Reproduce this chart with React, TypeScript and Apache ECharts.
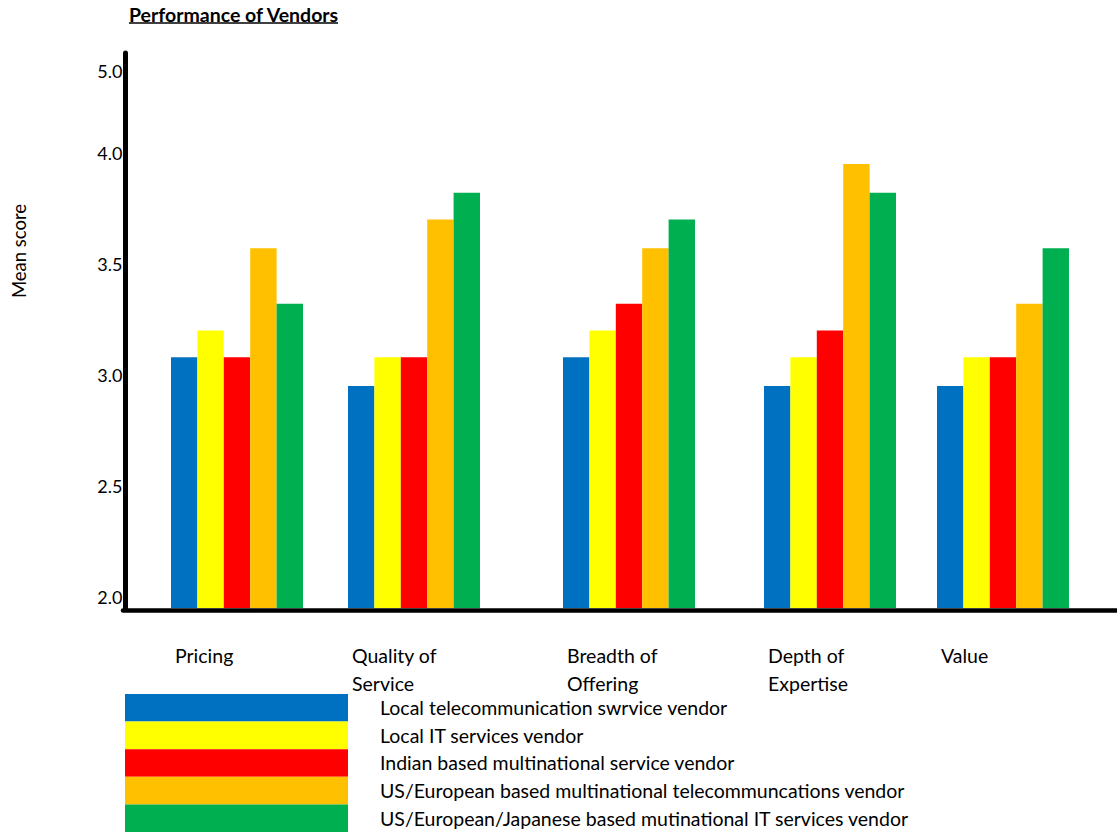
import { useEffect, useRef } from 'react';
import * as echarts from 'echarts';

const TITLE = 'Performance of Vendors';
const Y_NAME = 'Mean score';

const categories = ['Pricing', 'Quality of\nService', 'Breadth of\nOffering', 'Depth of\nExpertise', 'Value'];

const vendors = [
  'Local telecommunication swrvice vendor',
  'Local IT services vendor',
  'Indian based multinational service vendor',
  'US/European based multinational telecommuncations vendor',
  'US/European/Japanese based mutinational IT services vendor',
];

const localTelecom = [3.08, 2.95, 3.08, 2.95, 2.95];
const localIT = [3.2, 3.08, 3.2, 3.08, 3.08];
const indianMNC = [3.08, 3.08, 3.32, 3.2, 3.08];
const usEuTelecom = [3.57, 3.7, 3.57, 3.95, 3.32];
const usEuJpIT = [3.32, 3.82, 3.7, 3.82, 3.57];

const seriesValues = [localTelecom, localIT, indianMNC, usEuTelecom, usEuJpIT];

const tickValues = [2, 2.5, 3, 3.5, 4, 4.37];
const tickLabels = ['2.0', '2.5', '3.0', '3.5', '4.0', '5.0'];

const colors = ['#0070C0', '#FFFF00', '#FF0000', '#FFC000', '#00B050'];

// layout
const groupLefts = [171, 348, 563, 764, 937];
const GROUP_W = 132;
const PLOT_TOP = 53;
const PLOT_H = 555;
const Y_MIN = 1.95;
const Y_MAX = 4.45;
const FONT = 'Lato';
const TEXT_SIZE = 19.5;

export default function App() {
  const ref = useRef<HTMLDivElement>(null);

  useEffect(() => {
    const chart = echarts.init(ref.current!, null, { renderer: 'svg' });

    const grids: any[] = [{ left: 123, top: PLOT_TOP, width: 1117 - 123, height: PLOT_H }];
    const xAxes: any[] = [
      {
        gridIndex: 0,
        type: 'value',
        min: 0,
        max: 1,
        offset: 2,
        axisLine: { show: true, onZero: false, lineStyle: { color: '#000', width: 4.5 } },
        axisTick: { show: false },
        axisLabel: { show: false },
        splitLine: { show: false },
      },
    ];
    const yAxes: any[] = [
      {
        gridIndex: 0,
        type: 'value',
        min: Y_MIN,
        max: Y_MAX,
        offset: -2.5,
        axisLine: { show: true, onZero: false, lineStyle: { color: '#000', width: 5 } },
        axisTick: { show: false },
        splitLine: { show: false },
        axisLabel: {
          customValues: tickValues,
          formatter: (v: number) => {
            const idx = tickValues.findIndex((t) => Math.abs(t - v) < 1e-6);
            return idx >= 0 ? tickLabels[idx] : '';
          },
          margin: 3,
          fontFamily: FONT,
          fontSize: 18,
          color: '#000',
        },
      },
    ];

    categories.forEach((cat, i) => {
      grids.push({ left: groupLefts[i], top: PLOT_TOP, width: GROUP_W, height: PLOT_H });
      xAxes.push({
        gridIndex: i + 1,
        type: 'category',
        data: [cat],
        axisLine: { show: false },
        axisTick: { show: false },
        splitLine: { show: false },
        axisLabel: {
          interval: 0,
          width: GROUP_W - 8,
          margin: 33,
          formatter: (v: string) => v.split('\n').map((s) => `{a|${s}}`).join('\n'),
          rich: {
            a: { align: 'left', fontFamily: FONT, fontSize: TEXT_SIZE, lineHeight: 28, color: '#000' },
          },
        },
      });
      yAxes.push({ gridIndex: i + 1, type: 'value', min: Y_MIN, max: Y_MAX, show: false });
    });

    const series: any[] = [];
    vendors.forEach((name, v) => {
      categories.forEach((_, i) => {
        series.push({
          type: 'bar',
          name,
          xAxisIndex: i + 1,
          yAxisIndex: i + 1,
          data: [seriesValues[v][i]],
          itemStyle: { color: colors[v] },
          barGap: '0%',
          barCategoryGap: '0%',
        });
      });
    });

    chart.setOption({
      animation: false,
      backgroundColor: '#fff',
      title: {
        text: TITLE,
        left: 129,
        top: 4,
        padding: 0,
        textStyle: { fontFamily: FONT, fontSize: TEXT_SIZE, fontWeight: 'bold', color: '#000' },
      },
      legend: {
        orient: 'vertical',
        left: 125,
        top: 694,
        padding: 0,
        itemWidth: 223,
        itemHeight: 27.6,
        itemGap: 0,
        icon: 'rect',
        selectedMode: false,
        data: vendors,
        textStyle: { fontFamily: FONT, fontSize: TEXT_SIZE, color: '#000', padding: [0, 0, 0, 27] },
      },
      graphic: [
        {
          type: 'line',
          shape: { x1: 129, y1: 23, x2: 338, y2: 23 },
          style: { stroke: '#000', lineWidth: 1.5 },
        },
        {
          type: 'text',
          x: 19,
          y: 251,
          rotation: Math.PI / 2,
          style: {
            text: Y_NAME,
            align: 'center',
            verticalAlign: 'middle',
            fontFamily: FONT,
            fontSize: 18.5,
            fill: '#000',
          },
        },
      ],
      grid: grids,
      xAxis: xAxes,
      yAxis: yAxes,
      series,
    });

    return () => chart.dispose();
  }, []);

  return (
    <div
      ref={ref}
      style={{ position: 'absolute', left: 0, top: 0, width: 1117, height: 833 }}
    />
  );
}
